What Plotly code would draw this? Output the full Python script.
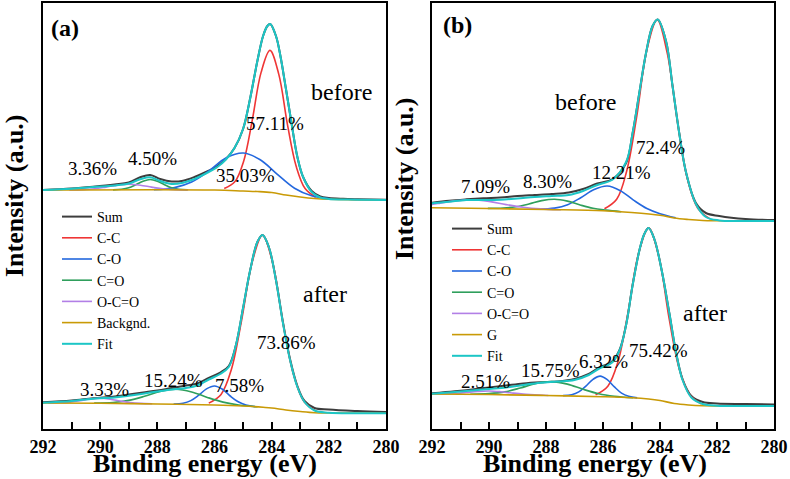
import plotly.graph_objects as go

FONT = "Liberation Serif"

# binding energy (eV) / intensity (a.u.) pairs
# ---------------- panel (a), before ----------------
A1_BG_E = [292, 286, 285, 284.5, 284, 283.5, 283, 282.5, 282, 281, 280]
A1_BG = [239, 239, 238, 237.5, 236.5, 234, 232, 230.5, 229.7, 229.2, 229]
A1_SUM_E = [292, 291, 290.25, 289.5, 289.0, 288.6, 288.25, 287.9, 287.5, 287.1, 286.7, 286.3, 285.9,
            285.6, 285.3, 285.0, 284.75, 284.5, 284.3, 284.15, 284.05, 283.85, 283.7, 283.5, 283.3,
            283.1, 282.9, 282.6, 282.3, 282.0, 281.5, 281, 280]
A1_SUM = [239, 240.5, 242.3, 244.5, 246.5, 251.7, 254, 250, 247.5, 248.3, 252, 257, 263, 270, 281, 300,
          331, 368, 393, 403, 405, 393, 374, 340, 305, 272, 252, 238, 232.5, 231, 230.2, 229.8, 229.3]
A1_FIT = [239, 240.3, 242, 243.5, 245.5, 249.7, 251.7, 248, 245, 246.3, 250, 255.5, 262, 269.5, 281, 300,
          331, 368, 393, 403, 405, 393, 374, 340, 305, 272, 252, 237, 231.5, 230, 229.5, 229.2, 229]
A1_CC_E = [285.66, 285.29, 284.98, 284.68, 284.37, 284.06, 283.75, 283.45, 283.14, 282.83, 282.46]
A1_CC = [240.4, 247.2, 267.8, 308.7, 356.6, 378.6, 354.6, 304.8, 262.4, 240.4, 231.8]
A1_CO_E = [288.12, 287.4, 286.8, 286.2, 285.6, 285.0, 284.4, 283.8, 283.2, 282.6, 281.88]
A1_CO = [239.4, 241.4, 247, 258, 271, 276, 269.3, 254.7, 240.8, 233.2, 230]
A1_CEO_E = [289.55, 289.25, 289.0, 288.75, 288.5, 288.25, 288.0, 287.75, 287.5, 287.25, 286.95]
A1_CEO = [239.1, 239.7, 241.2, 244.3, 247.8, 249.5, 247.8, 244.3, 241.2, 239.7, 239.1]
A1_OCO_E = [291.08, 290.6, 290.2, 289.8, 289.4, 289.0, 288.6, 288.2, 287.8, 287.4, 286.92]
A1_OCO = [239.1, 239.4, 240.2, 241.9, 243.8, 244.7, 243.8, 241.9, 240.2, 239.4, 239.1]

# ---------------- panel (a), after ----------------
A2_BG_E = [292, 290, 288, 286, 285, 284.3, 284, 283.5, 283, 282.5, 282, 280]
A2_BG = [26, 25.7, 25, 24, 23, 21.7, 21, 19, 17.5, 16.3, 16, 15.7]
A2_SUM_E = [292, 291, 290.25, 289.5, 289.0, 288.5, 288.0, 287.5, 287.0, 286.6, 286.2, 285.8, 285.5, 285.25,
            285.0, 284.75, 284.5, 284.32, 284.1, 283.85, 283.6, 283.35, 283.1, 282.85, 282.5, 282.0, 281.0, 280.0]
A2_SUM = [26.7, 28.5, 30.8, 32.5, 34.5, 36.5, 38.5, 41, 43.5, 45.5, 51, 56.5, 63, 84, 121, 159, 187, 194,
          182, 149, 106, 69, 43, 28, 21, 19.5, 18, 17]
A2_FIT = [26.3, 28, 30.3, 31.5, 33.3, 35.3, 37.5, 39.5, 41, 43.5, 49.5, 55, 62, 84, 121, 159, 187, 194,
          182, 149, 105, 68, 42, 27, 18.5, 16.3, 15.8, 15.7]
A2_CC_E = [286.2, 285.77, 285.41, 285.05, 284.68, 284.32, 283.96, 283.6, 283.23, 282.87, 282.44]
A2_CC = [25.9, 34.6, 59.5, 109, 167.1, 193.7, 165.6, 105.4, 54, 27.6, 17.9]
A2_CO_E = [287.43, 287.1, 286.83, 286.55, 286.28, 286.0, 285.72, 285.45, 285.17, 284.9, 284.57]
A2_CO = [24.9, 25.8, 28.4, 33.8, 40.1, 43, 39.7, 33, 27.2, 24, 22.3]
A2_CEO_E = [290.21, 289.55, 289.0, 288.45, 287.9, 287.35, 286.8, 286.25, 285.7, 285.15, 284.49]
A2_CEO = [26, 26.5, 28.6, 32.7, 37.6, 39.8, 37.1, 31.6, 26.9, 24.0, 22.2]
A2_OCO_E = [291.82, 291.4, 291.05, 290.7, 290.35, 290.0, 289.65, 289.3, 288.95, 288.6, 288.18]
A2_OCO = [26, 26.2, 26.9, 28.3, 30, 30.7, 29.8, 28, 26.4, 25.6, 25.3]

# ---------------- panel (b), before ----------------
B1_BG_E = [292, 290, 288, 286, 285, 284, 283.5, 283, 282.5, 282, 280]
B1_BG = [221.3, 220.5, 219.5, 218.3, 216.5, 213.7, 211, 209.5, 208.5, 208.2, 208]
B1_SUM_E = [292, 291.4, 290.8, 290.2, 289.6, 289.0, 288.4, 287.8, 287.2, 286.7, 286.2, 285.66, 285.19,
            284.96, 284.72, 284.49, 284.26, 284.08, 283.79, 283.56, 283.32, 283.09, 282.74, 282.39,
            281.92, 281, 280]
B1_SUM = [226.3, 228.3, 229.7, 230.8, 231.5, 233, 234, 235, 236.5, 240, 245.5, 250, 266, 296, 337, 376,
          403, 409.5, 388, 343, 295, 257, 226, 216, 213, 210, 209]
B1_FIT = [225.7, 227.3, 229, 229, 229.3, 230.5, 232, 233, 234, 238, 244, 249.5, 267, 296, 337, 376,
          403, 409.5, 388, 343, 295, 257, 225, 212, 208.6, 208.1, 208]
B1_CC_E = [285.95, 285.52, 285.17, 284.81, 284.46, 284.1, 283.75, 283.39, 283.04, 282.68, 282.25]
B1_CC = [220.2, 229.7, 257.8, 313.6, 379.2, 409.2, 376.4, 308.2, 250.4, 220.9, 210.2]
B1_CO_E = [288.26, 287.7, 287.24, 286.78, 286.31, 285.85, 285.39, 284.93, 284.46, 284.0, 283.45]
B1_CO = [219.9, 220.9, 224.3, 231.3, 239.5, 243, 238.3, 228.9, 220.5, 215.3, 211.2]
B1_CEO_E = [290.04, 289.5, 289.05, 288.6, 288.15, 287.7, 287.25, 286.8, 286.35, 285.9, 285.36]
B1_CEO = [220.6, 221, 222.2, 225, 228.4, 229.8, 227.9, 224, 220.7, 218.9, 217.3]
B1_OCO_E = [292.0, 291.8, 291.2, 290.6, 290.0, 289.4, 288.8, 288.2, 287.48]
B1_OCO = [224.6, 225.5, 228.1, 229.3, 227.6, 224.4, 221.7, 220.1, 219.3]

# ---------------- panel (b), after ----------------
B2_BG_E = [292, 290, 288, 286, 285, 284.4, 284, 283.5, 283, 282.5, 282, 280]
B2_BG = [35, 34.5, 33.5, 32.3, 31.3, 30, 28.5, 25.5, 24, 23.2, 23, 23]
B2_SUM_E = [292, 291.2, 290.6, 290.0, 289.4, 288.8, 288.2, 287.6, 287.0, 286.5, 286.1, 285.7, 285.42,
            285.19, 284.96, 284.72, 284.55, 284.4, 284.2, 283.95, 283.67, 283.44, 283.21, 282.9, 282.5,
            282.0, 281.0, 280.0]
B2_SUM = [35.7, 37.7, 39.5, 41.5, 43.5, 45.5, 46.7, 47.5, 50, 55, 62, 67, 79, 104, 144, 179, 195, 201,
          190, 160, 115.5, 77, 50, 33, 27, 25.5, 25, 24.5]
B2_FIT = [35.3, 37, 38.5, 40, 41.5, 44, 46.3, 47.5, 49, 54, 61, 66, 78.5, 104, 144, 179, 195, 201,
          190, 160, 115.5, 77, 49, 31.5, 25, 23.3, 23, 23]
B2_CC_E = [286.26, 285.83, 285.47, 285.12, 284.76, 284.4, 284.04, 283.69, 283.33, 282.97, 282.54]
B2_CC = [34.2, 42.8, 67.6, 116.9, 174.6, 201, 172.4, 112.1, 60.8, 34.6, 25]
B2_CO_E = [287.4, 287.1, 286.85, 286.6, 286.35, 286.1, 285.85, 285.6, 285.35, 285.1, 284.8]
B2_CO = [33.4, 34.3, 37.1, 42.9, 49.7, 52.9, 49.3, 42.1, 35.9, 32.7, 31.1]
B2_CEO_E = [290.66, 290.0, 289.45, 288.9, 288.35, 287.8, 287.25, 286.7, 286.15, 285.6, 284.94]
B2_CEO = [34.8, 35.4, 37.1, 41, 45.5, 47.4, 44.9, 39.7, 35.3, 32.8, 31.2]
B2_OCO_E = [292.0, 291.6, 291.2, 290.8, 290.4, 290.0, 289.6, 289.2, 288.8, 288.4, 287.92]
B2_OCO = [35, 35.1, 35.5, 36.5, 37.5, 38, 37.3, 36, 34.9, 34.3, 33.5]

TICKS = [292, 290, 288, 286, 284, 282, 280]

# percentage labels: (text, energy, intensity)
A_LABELS = [("3.36%", 290.28, 260.7), ("4.50%", 288.18, 270.7), ("35.03%", 284.93, 253.3),
            ("57.11%", 283.88, 305.7), ("3.33%", 289.84, 39.7), ("15.24%", 287.45, 48.3),
            ("7.58%", 285.11, 44), ("73.86%", 283.47, 86.3)]
B_LABELS = [("7.09%", 290.13, 242.3), ("8.30%", 287.96, 247.3), ("12.21%", 285.34, 256.7),
            ("72.4%", 284.0, 281.7), ("2.51%", 290.13, 47.3), ("15.75%", 287.85, 58.3),
            ("6.32%", 285.98, 67.3), ("75.42%", 284.06, 79)]
A_STATES = [("before", 281.55, 337.3), ("after", 282.13, 134.7)]
B_STATES = [("before", 286.6, 327.3), ("after", 282.42, 115.7)]

NAMES_A = ["Sum", "C-C", "C-O", "C=O", "O-C=O", "Backgnd.", "Fit"]
NAMES_B = ["Sum", "C-C", "C-O", "C=O", "O-C=O", "G", "Fit"]
COLORS = ["#3d3d3d", "#ef3535", "#2468de", "#2f9f5c", "#b27fe6", "#c99a06", "#1cc6c6"]
WIDTHS = [2, 1.6, 1.6, 1.6, 1.6, 1.6, 2]


def add_spectrum(fig, curves, names, ax, legend, showlegend):
    xa, ya = ax
    for i, (e, y) in enumerate(curves):
        fig.add_trace(go.Scatter(
            x=e, y=y, name=names[i], mode='lines',
            line=dict(color=COLORS[i], width=WIDTHS[i], shape='spline', smoothing=1),
            xaxis=xa, yaxis=ya, legend=legend, showlegend=showlegend,
        ))


fig = go.Figure()

add_spectrum(fig, [(A1_SUM_E, A1_SUM), (A1_CC_E, A1_CC), (A1_CO_E, A1_CO), (A1_CEO_E, A1_CEO),
                   (A1_OCO_E, A1_OCO), (A1_BG_E, A1_BG), (A1_SUM_E, A1_FIT)],
             NAMES_A, ('x', 'y'), 'legend', True)
add_spectrum(fig, [(A2_SUM_E, A2_SUM), (A2_CC_E, A2_CC), (A2_CO_E, A2_CO), (A2_CEO_E, A2_CEO),
                   (A2_OCO_E, A2_OCO), (A2_BG_E, A2_BG), (A2_SUM_E, A2_FIT)],
             NAMES_A, ('x', 'y'), 'legend', False)
add_spectrum(fig, [(B1_SUM_E, B1_SUM), (B1_CC_E, B1_CC), (B1_CO_E, B1_CO), (B1_CEO_E, B1_CEO),
                   (B1_OCO_E, B1_OCO), (B1_BG_E, B1_BG), (B1_SUM_E, B1_FIT)],
             NAMES_B, ('x2', 'y2'), 'legend2', True)
add_spectrum(fig, [(B2_SUM_E, B2_SUM), (B2_CC_E, B2_CC), (B2_CO_E, B2_CO), (B2_CEO_E, B2_CEO),
                   (B2_OCO_E, B2_OCO), (B2_BG_E, B2_BG), (B2_SUM_E, B2_FIT)],
             NAMES_B, ('x2', 'y2'), 'legend2', False)

W, H = 790, 479

xaxis_style = dict(
    range=[292, 280], tickvals=TICKS, ticktext=['<b>%d</b>' % t for t in TICKS],
    ticks='inside', ticklen=7, tickwidth=1.5, tickcolor='black',
    minor=dict(dtick=1, ticks='inside', ticklen=7, tickwidth=1.5, tickcolor='black'),
    showline=True, mirror=True, linecolor='black', linewidth=1.8,
    showgrid=False, zeroline=False, automargin=False,
    tickfont=dict(family=FONT, size=18, color='black', weight='bold'),
)
yaxis_style = dict(
    range=[0, 426], showticklabels=False, ticks='',
    showline=True, mirror=True, linecolor='black', linewidth=1.8,
    showgrid=False, zeroline=False, automargin=False, domain=[1 - 429 / H, 1 - 3 / H],
)

legend_style = dict(xanchor='left', yanchor='top', font=dict(family=FONT, size=14, color='black'),
                    bgcolor='rgba(0,0,0,0)', itemwidth=30, tracegroupgap=0)

fig.update_layout(
    width=W, height=H, margin=dict(l=0, r=0, t=0, b=0, autoexpand=False),
    paper_bgcolor='white', plot_bgcolor='white',
    xaxis=dict(xaxis_style, domain=[43 / W, 386 / W], anchor='y'),
    yaxis=dict(yaxis_style, anchor='x'),
    xaxis2=dict(xaxis_style, domain=[432 / W, 774 / W], anchor='y2'),
    yaxis2=dict(yaxis_style, anchor='x2'),
    legend=dict(legend_style, x=57 / W, y=1 - 201 / H),
    legend2=dict(legend_style, x=447 / W, y=1 - 213 / H),
)

for labels, xr, yr in [(A_LABELS, 'x', 'y'), (B_LABELS, 'x2', 'y2')]:
    for text, e, v in labels:
        fig.add_annotation(x=e, y=v, xref=xr, yref=yr, text=text, showarrow=False,
                           xanchor='center', yanchor='middle',
                           font=dict(family=FONT, size=19, color='black'))
for states, xr, yr in [(A_STATES, 'x', 'y'), (B_STATES, 'x2', 'y2')]:
    for text, e, v in states:
        fig.add_annotation(x=e, y=v, xref=xr, yref=yr, text=text, showarrow=False,
                           xanchor='center', yanchor='middle',
                           font=dict(family=FONT, size=24, color='black'))

bold = dict(family=FONT, size=26, color='black', weight='bold')
paper_texts = [
    ('(a)', 65, 28, 0, dict(family=FONT, size=24, color='black', weight='bold')),
    ('(b)', 457, 25, 0, dict(family=FONT, size=24, color='black', weight='bold')),
    ('Intensity (a.u.)', 14, 196, -90, bold),
    ('Intensity (a.u.)', 404, 178, -90, bold),
    ('Binding energy (eV)', 205, 463, 0, bold),
    ('Binding energy (eV)', 595, 463, 0, bold),
]
for text, px, py, ang, f in paper_texts:
    fig.add_annotation(x=px / W, y=1 - py / H, xref='paper', yref='paper', text=text,
                       textangle=ang, showarrow=False, xanchor='center', yanchor='middle', font=f)

# page body has a default 8px margin; drop it so the figure sits at the window's corner
fig.write_html("out.html", config={'displayModeBar': False},
               post_script="document.body.style.margin='0';")
